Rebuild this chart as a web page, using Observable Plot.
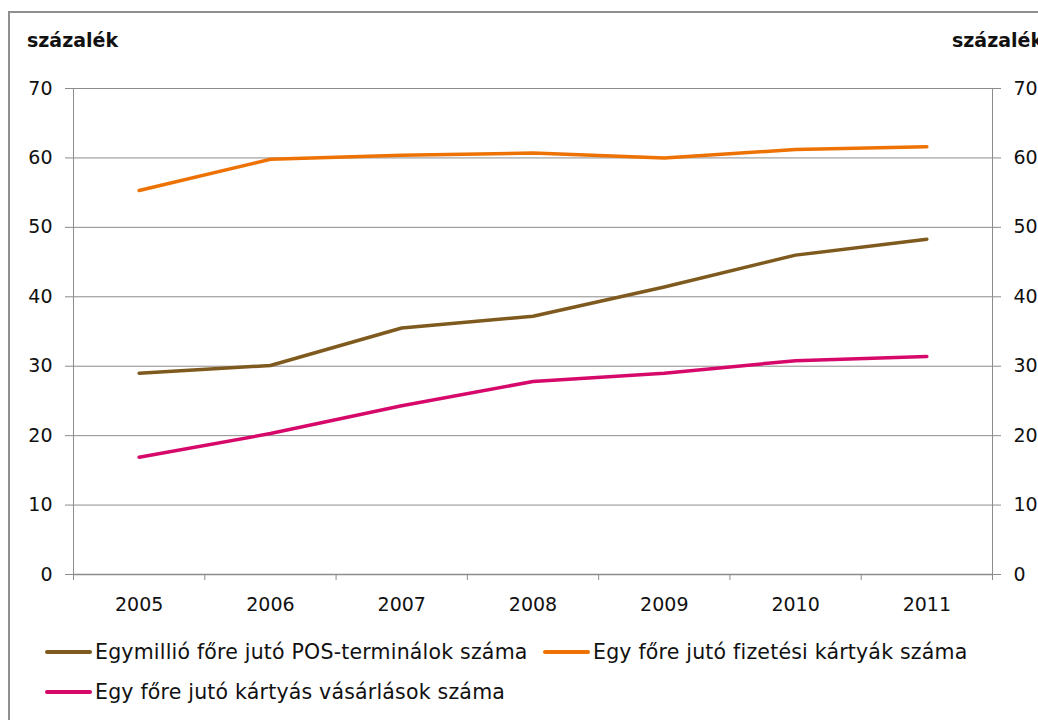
<!DOCTYPE html>
<html>
<head>
<meta charset="utf-8">
<script src="https://cdn.jsdelivr.net/npm/d3@7"></script>
<script src="https://cdn.jsdelivr.net/npm/@observablehq/plot@0.6"></script>
<style>
  body { margin: 0; background: #fff; font-family: "DejaVu Sans", sans-serif; }
  #wrap { position: relative; width: 1038px; height: 720px; overflow: hidden; background: #fff; }
  #frame { position: absolute; left: 8px; top: 11px; width: 1100px; height: 800px; border: 2px solid #8f8f8f; box-sizing: border-box; }
  .unit { position: absolute; top: 29px; font-weight: bold; font-size: 19px; color: #111; white-space: nowrap; }
  #chart { position: absolute; left: 0; top: 0; }
  .leg { position: absolute; font-size: 20.5px; letter-spacing: 0.2px; line-height: 24px; color: #111; white-space: nowrap; display: flex; align-items: center; }
  .leg span.sw { display: inline-block; width: 47px; height: 4px; border-radius: 2px; margin-right: 3px; }
</style>
</head>
<body>
<div id="wrap">
  <div id="frame"></div>
  <div class="unit" style="left:27px">százalék</div>
  <div class="unit" style="left:952px">százalék</div>
  <div id="chart"></div>
  <div id="legend"></div>
</div>
<script>
const years = [2005, 2006, 2007, 2008, 2009, 2010, 2011];
const seriesNames = [
  "Egymillió főre jutó POS-terminálok száma",
  "Egy főre jutó fizetési kártyák száma",
  "Egy főre jutó kártyás vásárlások száma"
];
const posTerminals = [29.0, 30.1, 35.5, 37.2, 41.4, 46.0, 48.3];
const paymentCards = [55.3, 59.8, 60.4, 60.7, 60.0, 61.2, 61.6];
const cardPurchases = [16.9, 20.3, 24.3, 27.8, 29.0, 30.8, 31.4];
const colors = ["#7f5a1e", "#ee7203", "#d6096b"];
const yTicks = [0, 10, 20, 30, 40, 50, 60, 70];

const allSeries = [posTerminals, paymentCards, cardPurchases];
const data = [];
allSeries.forEach((vals, i) => {
  years.forEach((yr, j) => data.push({ year: yr, value: vals[j], series: seriesNames[i] }));
});
const boundaries = d3.range(years[0] - 0.5, years[years.length - 1] + 1, 1);

const plot = Plot.plot({
  width: 1038,
  height: 620,
  marginLeft: 73,
  marginRight: 46,
  marginTop: 88,
  marginBottom: 46,
  style: { fontFamily: "DejaVu Sans, sans-serif", fontSize: "19px", color: "#111", background: "transparent" },
  x: { domain: [years[0] - 0.5, years[years.length - 1] + 0.5], axis: null },
  y: { domain: [0, 70], axis: null },
  color: { domain: seriesNames, range: colors },
  marks: [
    Plot.gridY(yTicks.filter(d => d > 0), { stroke: "#8c8c8c", strokeOpacity: 1, strokeWidth: 1 }),
    Plot.ruleX([boundaries[0], boundaries[boundaries.length - 1]], { stroke: "#8c8c8c", strokeWidth: 1 }),
    Plot.ruleY([0], { stroke: "#8c8c8c", strokeWidth: 1.5 }),
    Plot.axisY({ anchor: "left", ticks: yTicks, tickSize: 8, tickPadding: 13, stroke: "#8c8c8c", tickFormat: d => d, fill: "#111", fontSize: 19, label: null }),
    Plot.axisY({ anchor: "right", ticks: yTicks, tickSize: 8, tickPadding: 13, stroke: "#8c8c8c", tickFormat: d => d, fill: "#111", fontSize: 19, label: null }),
    Plot.axisX({ ticks: boundaries, tickSize: 6, tickFormat: () => "", stroke: "#8c8c8c", label: null }),
    Plot.axisX({ ticks: years, tickSize: 0, tickPadding: 23, tickFormat: d => String(d), fill: "#111", fontSize: 19, label: null }),
    Plot.line(data, { x: "year", y: "value", z: "series", stroke: "series", strokeWidth: 3.5, strokeLinecap: "round", strokeLinejoin: "round" })
  ]
});
document.getElementById("chart").appendChild(plot);

const legendPos = [
  { left: 45, top: 640 },
  { left: 543, top: 640 },
  { left: 45, top: 680 }
];
const legend = document.getElementById("legend");
seriesNames.forEach((name, i) => {
  const d = document.createElement("div");
  d.className = "leg";
  d.style.left = legendPos[i].left + "px";
  d.style.top = legendPos[i].top + "px";
  d.innerHTML = `<span class="sw" style="background:${colors[i]}"></span>${name}`;
  legend.appendChild(d);
});
</script>
</body>
</html>
